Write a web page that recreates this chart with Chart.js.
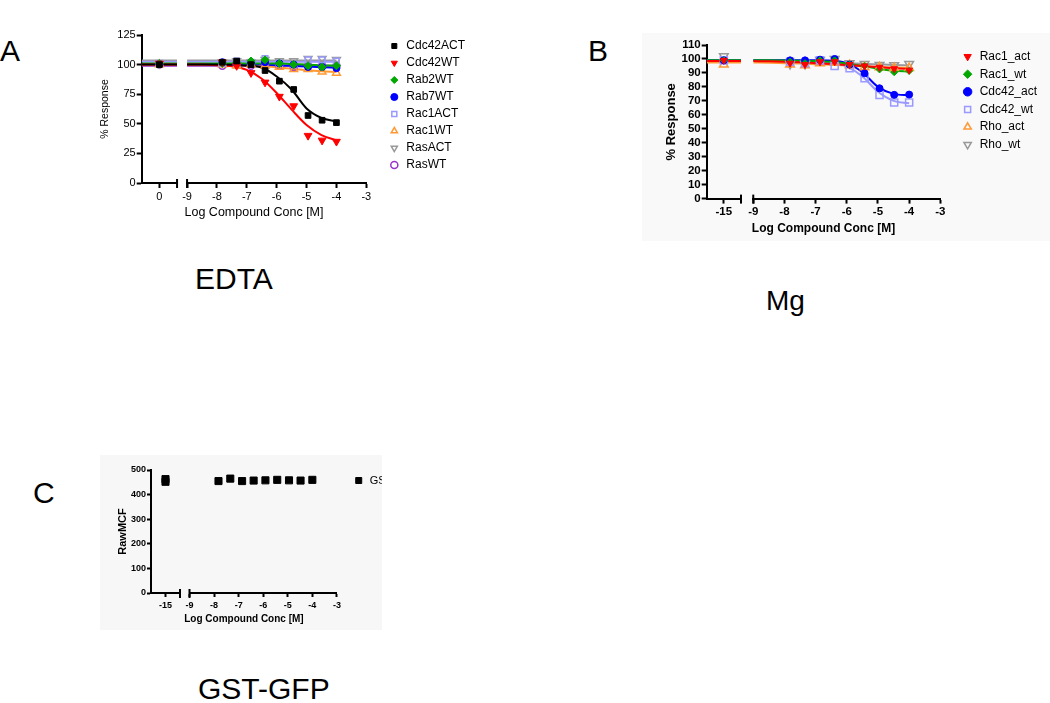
<!DOCTYPE html>
<html>
<head>
<meta charset="utf-8">
<script src="https://cdn.jsdelivr.net/npm/chart.js@4.4.0/dist/chart.umd.min.js"></script>
<style>
  body { margin: 0; width: 1050px; height: 703px; background: #fff; position: relative; overflow: hidden;
         font-family: "Liberation Sans", Arial, sans-serif; }
  .lbl { position: absolute; font-size: 30px; line-height: 30px; color: #000; white-space: nowrap; }
  .box { position: absolute; }
  canvas { display: block; }
</style>
</head>
<body>
<div class="lbl" style="left:0;top:36px">A</div>
<div class="lbl" style="left:588px;top:36px">B</div>
<div class="lbl" style="left:33px;top:478px">C</div>
<div class="lbl" style="left:195px;top:264px">EDTA</div>
<div class="lbl" style="left:766px;top:287px;font-size:28px;line-height:28px">Mg</div>
<div class="lbl" style="left:198px;top:674px">GST-GFP</div>

<div class="box" style="left:90px;top:25px"><canvas id="chartA" width="385" height="199"></canvas></div>
<div class="box" style="left:642px;top:33px;width:408px;height:208px;background:#f9f9f9"></div>
<div class="box" style="left:640px;top:30px"><canvas id="chartB" width="407" height="209"></canvas></div>
<div class="box" style="left:100px;top:455px;width:282px;height:175px;overflow:hidden;background:#f7f7f7">
  <canvas id="chartC" width="328" height="168" style="margin-top:5px"></canvas>
</div>

<script>
// dilution series (log M), 3-fold steps
const doses = [-7.82, -7.34, -6.86, -6.39, -5.91, -5.43, -4.95, -4.48, -4];
// x positions where the fitted curves were read
const fitDoses = [-9, -8.5, -8, -7.5, -7, -6.5, -6, -5.5, -5, -4.5, -4];

// Panel A - EDTA (% response)
const cdc42ACT = [102, 103, 100, 95, 86, 79, 57, 53, 51];
const cdc42WT = [102, 99, 93, 85, 73, 65, 40, 36, 35];
const rab2WT = [101, 102, 103, 104, 101, 100, 99, 98, 99];
const rab7WT = [102, 101, 102, 102, 101, 100, 98, 98, 97];
const rac1ACT = [101, 103, 102, 105, 101, 100, 104, 104, 103];
const rac1WT = [100, 99, 100, 99, 98, 96, 96, 94, 93];
const rasACT = [102, 103, 102, 104, 103, 103, 105, 105, 104];
const rasWT = [99, 100, 99, 99, 99, 98, 99, 99, 99];
const cdc42ACTFit = [100, 100, 100, 99.8, 99, 97.5, 90, 79, 63, 55, 52];
const cdc42WTFit = [100, 100, 99.5, 98.5, 95.5, 88, 76, 62, 49, 40.5, 36];
const rab2WTFit = [101, 101, 101, 101, 101, 101, 101, 100.5, 100, 99.5, 99];
const rab7WTFit = [100.5, 100.5, 100.5, 100.4, 100.3, 100, 99.5, 99, 98.3, 97.8, 97.5];
const rac1ACTFit = [102.5, 102.5, 102.5, 102.5, 102.5, 102.5, 102.5, 102.5, 102.5, 102.5, 102.5];
const rac1WTFit = [100, 100, 100, 99.8, 99.4, 98.8, 97.8, 96.5, 95.2, 94.3, 93.8];
const rasACTFit = [103.5, 103.5, 103.5, 103.5, 103.5, 103.5, 103.5, 103.5, 103.5, 103.5, 103.5];
const rasWTFit = [99, 99, 99, 99, 99, 99, 99, 99, 99, 99, 99];
// values on the "0" segment of the broken axis
const zeroA = [100, 101, 101, 100.5, 101, 100, 101, 100];

// Panel B - Mg (% response)
const rac1Act = [97, 96, 98, 98, 96, 95, 94, 93, 92];
const rac1Wt = [98, 97, 99, 99, 96, 95, 92.5, 90.5, 91.4];
const cdc42Act = [99, 99, 99.5, 100, 96, 89.8, 79, 74.3, 74.5];
const cdc42Wt = [98, 97, 99, 95, 93.3, 86.2, 74.3, 68.8, 68.8];
const rhoAct = [96, 95.5, 97, 97.5, 95.5, 94, 94, 93.5, 93.5];
const rhoWt = [96.4, 96.4, 99.3, 100, 97, 96.4, 95.7, 95.5, 96.4];
const rac1ActFit = [98.5, 98.3, 98, 97.6, 97, 96.4, 95.7, 95, 94.2, 93.4, 92.7];
const rac1WtFit = [99, 99, 98.9, 98.8, 98.5, 98, 96.8, 95, 93, 91.6, 91];
const cdc42ActFit = [99, 99, 99, 99, 99, 98.7, 97, 90.5, 80, 75, 74];
const cdc42WtFit = [99, 99, 99, 98.9, 98.6, 97.6, 94.5, 87.5, 76.5, 70, 68.3];
const rhoActFit = [97.5, 97.3, 97, 96.7, 96.3, 95.8, 95.3, 94.8, 94.3, 93.9, 93.6];
const rhoWtFit = [98.8, 98.6, 98.3, 98, 97.7, 97.3, 96.9, 96.5, 96.1, 95.7, 95.4];
// values at -15 segment
const zeroB = [99, 99, 99, 99, 96, 102];

// Panel C - GST-GFP raw MCF
const gstGfp = [455, 465, 455, 457, 458, 460, 458, 457, 460];
const gstGfpZero = [463, 452];

const tickY_A = [0, 25, 50, 75, 100, 125];
const tickY_B = [0, 10, 20, 30, 40, 50, 60, 70, 80, 90, 100, 110];
const tickY_C = [0, 100, 200, 300, 400, 500];

Chart.defaults.font.family = '"Liberation Sans", Arial, sans-serif';
Chart.defaults.color = '#000';

function buildSets(s, zeroX, seg) {
  const fillCol = s.open ? 'rgba(0,0,0,0)' : s.color;
  const marker = {
    borderColor: s.color, backgroundColor: fillCol,
    pointStyle: s.style, pointRotation: s.rot || 0,
    pointBackgroundColor: fillCol, pointBorderColor: s.color,
    pointBorderWidth: s.open ? 1.5 : 1, pointRadius: s.size,
    showLine: false, order: 0
  };
  const sets = [
    Object.assign({}, marker, { label: s.label, inLegend: true, xAxisID: 'xr', yAxisID: 'y',
      data: doses.map((d, i) => ({ x: d, y: s.resp[i] })) }),
    Object.assign({}, marker, { label: s.label + ' low', xAxisID: 'xl', yAxisID: 'y',
      data: s.zero.map(v => ({ x: zeroX, y: v })) })
  ];
  if (s.fit) {
    const line = { borderColor: s.color, borderWidth: 2, pointRadius: 0, order: 1,
      cubicInterpolationMode: 'monotone', yAxisID: 'y' };
    sets.push(Object.assign({}, line, { label: s.label + ' fit', xAxisID: 'xr',
      data: fitDoses.map((d, i) => ({ x: d, y: s.fit[i] })) }));
    sets.push(Object.assign({}, line, { label: s.label + ' fit low', xAxisID: 'xl',
      data: seg.map(d => ({ x: d, y: s.fit[0] })) }));
  }
  return sets;
}

// short marks across the axis where it is broken
const breakMarks = {
  id: 'breakMarks',
  afterDraw(chart) {
    const { ctx, chartArea, scales } = chart;
    ctx.save();
    ctx.strokeStyle = '#000';
    ctx.lineWidth = 2;
    [scales.xl.right, scales.xr.left].forEach(px => {
      ctx.beginPath();
      ctx.moveTo(px, chartArea.bottom - 4);
      ctx.lineTo(px, chartArea.bottom + 5);
      ctx.stroke();
    });
    ctx.restore();
  }
};

function makePanel(id, p) {
  const sets = [];
  p.series.forEach(s => sets.push(...buildSets(s, p.zeroX, [p.segMin, p.segMax])));
  const tickFont = { size: p.tickSize, weight: p.bold ? 'bold' : 'normal' };
  const gridOpts = { drawOnChartArea: false, drawTicks: true, tickLength: p.tickLen, tickWidth: 2, tickColor: '#000' };
  new Chart(document.getElementById(id), {
    type: 'line',
    data: { datasets: sets },
    plugins: [breakMarks],
    options: {
      responsive: false, animation: false, devicePixelRatio: 1,
      layout: { padding: { top: p.padTop, left: 0, right: 0, bottom: 0 } },
      plugins: {
        legend: {
          position: 'right', align: 'start', maxWidth: 300,
          labels: {
            usePointStyle: true, boxWidth: p.legBoxW, boxHeight: p.legBoxH, padding: p.legPad,
            color: '#000', font: { size: p.legSize },
            filter: (item, data) => !!data.datasets[item.datasetIndex].inLegend
          }
        },
        title: {
          display: true, text: 'Log Compound Conc [M]', position: 'bottom', fullSize: false,
          color: '#000', font: { size: p.titleSize, weight: p.bold ? 'bold' : 'normal', lineHeight: 1.2 },
          padding: p.titlePad
        },
        tooltip: { enabled: false }
      },
      scales: {
        xl: {
          type: 'linear', position: 'bottom', stack: 'xs', stackWeight: p.wLeft,
          min: p.segMin, max: p.segMax,
          ticks: { stepSize: 1, includeBounds: false, autoSkip: false, maxRotation: 0, padding: p.tickPad, font: tickFont, color: '#000' },
          grid: gridOpts, border: { display: true, color: '#000', width: 2 },
          afterFit: s => { s.height = p.xH; }
        },
        xg: {
          type: 'linear', position: 'bottom', stack: 'xs', stackWeight: p.wGap, min: 0, max: 1,
          ticks: { display: false }, grid: { display: false }, border: { display: false },
          afterFit: s => { s.height = p.xH; }
        },
        xr: {
          type: 'linear', position: 'bottom', stack: 'xs', stackWeight: p.wRight,
          min: -9, max: -3,
          ticks: { stepSize: 1, includeBounds: false, autoSkip: false, maxRotation: 0, padding: p.tickPad, font: tickFont, color: '#000' },
          grid: gridOpts, border: { display: true, color: '#000', width: 2 },
          afterFit: s => { s.height = p.xH; }
        },
        y: {
          type: 'linear', position: 'left',
          min: p.yTicks[0], max: p.yTicks[p.yTicks.length - 1],
          afterBuildTicks: s => { s.ticks = p.yTicks.map(v => ({ value: v })); },
          ticks: { padding: 1, autoSkip: false, font: tickFont, color: '#000' },
          grid: gridOpts, border: { display: true, color: '#000', width: 2 },
          title: { display: true, text: p.yTitle, color: '#000',
                   font: { size: p.yTitleSize, weight: p.bold ? 'bold' : 'normal', lineHeight: 1.2 },
                   padding: { top: p.yTitlePad, bottom: 0 } },
          afterFit: s => { s.width = p.yW; }
        },
        ySpace: {
          type: 'linear', position: 'right', display: false,
          afterFit: s => { s.width = p.spacer; }
        }
      }
    }
  });
}

makePanel('chartA', {
  series: [
    { label: 'Cdc42ACT', color: '#000000', style: 'rect', size: 4, resp: cdc42ACT, fit: cdc42ACTFit, zero: [zeroA[0]] },
    { label: 'Cdc42WT', color: '#ff0000', style: 'triangle', rot: 180, size: 4.5, resp: cdc42WT, fit: cdc42WTFit, zero: [zeroA[1]] },
    { label: 'Rab2WT', color: '#00a800', style: 'rectRot', size: 4, resp: rab2WT, fit: rab2WTFit, zero: [zeroA[2]] },
    { label: 'Rab7WT', color: '#0000ff', style: 'circle', size: 3.5, resp: rab7WT, fit: rab7WTFit, zero: [zeroA[3]] },
    { label: 'Rac1ACT', color: '#9999ff', style: 'rect', open: true, size: 4, resp: rac1ACT, fit: rac1ACTFit, zero: [zeroA[4]] },
    { label: 'Rac1WT', color: '#ff9933', style: 'triangle', open: true, size: 4.5, resp: rac1WT, fit: rac1WTFit, zero: [zeroA[5]] },
    { label: 'RasACT', color: '#999999', style: 'triangle', rot: 180, open: true, size: 4.5, resp: rasACT, fit: rasACTFit, zero: [zeroA[6]] },
    { label: 'RasWT', color: '#9933cc', style: 'circle', open: true, size: 3.5, resp: rasWT, fit: rasWTFit, zero: [zeroA[7]] }
  ],
  zeroX: 0, segMin: -0.6, segMax: 0.6, wLeft: 35.3, wGap: 10, wRight: 179,
  yTicks: tickY_A, yTitle: '% Response', yTitleSize: 10.5, yTitlePad: 8.7, yW: 51.7,
  bold: false, tickSize: 11, tickLen: 5, tickPad: 2, xH: 20, padTop: 10,
  titleSize: 12.5, titlePad: { top: 2, bottom: 4 },
  legBoxW: 18, legBoxH: 5, legPad: 5, legSize: 12, spacer: 17
});

makePanel('chartB', {
  series: [
    { label: 'Rac1_act', color: '#ff0000', style: 'triangle', rot: 180, size: 4, resp: rac1Act, fit: rac1ActFit, zero: [zeroB[0]] },
    { label: 'Rac1_wt', color: '#00a800', style: 'rectRot', size: 3.5, resp: rac1Wt, fit: rac1WtFit, zero: [zeroB[1]] },
    { label: 'Cdc42_act', color: '#0000ff', style: 'circle', size: 3.5, resp: cdc42Act, fit: cdc42ActFit, zero: [zeroB[2]] },
    { label: 'Cdc42_wt', color: '#9999ff', style: 'rect', open: true, size: 5, resp: cdc42Wt, fit: cdc42WtFit, zero: [zeroB[3]] },
    { label: 'Rho_act', color: '#ff9933', style: 'triangle', open: true, size: 5, resp: rhoAct, fit: rhoActFit, zero: [zeroB[4]] },
    { label: 'Rho_wt', color: '#999999', style: 'triangle', rot: 180, open: true, size: 5, resp: rhoWt, fit: rhoWtFit, zero: [zeroB[5]] }
  ],
  zeroX: -15, segMin: -15.55, segMax: -14.45, wLeft: 34.3, wGap: 12.3, wRight: 187.2,
  yTicks: tickY_B, yTitle: '% Response', yTitleSize: 13, yTitlePad: 23.9, yW: 66.7,
  bold: true, tickSize: 11.5, tickLen: 5, tickPad: 1, xH: 20, padTop: 15,
  titleSize: 12, titlePad: { top: 3, bottom: 3 },
  legBoxW: 18, legBoxH: 6, legPad: 5.6, legSize: 12, spacer: 15.7
});

makePanel('chartC', {
  series: [
    { label: 'GST-GFP', color: '#000000', style: 'rect', size: 5, resp: gstGfp, zero: gstGfpZero }
  ],
  zeroX: -15, segMin: -15.6, segMax: -14.4, wLeft: 29, wGap: 9.5, wRight: 147.4,
  yTicks: tickY_C, yTitle: 'RawMCF', yTitleSize: 11, yTitlePad: 16.4, yW: 51,
  bold: true, tickSize: 9, tickLen: 4, tickPad: 3, xH: 18, padTop: 10,
  titleSize: 10, titlePad: { top: 2, bottom: 3 },
  legBoxW: 12, legBoxH: 6, legPad: 5, legSize: 11, spacer: 11.3
});
</script>
</body>
</html>
